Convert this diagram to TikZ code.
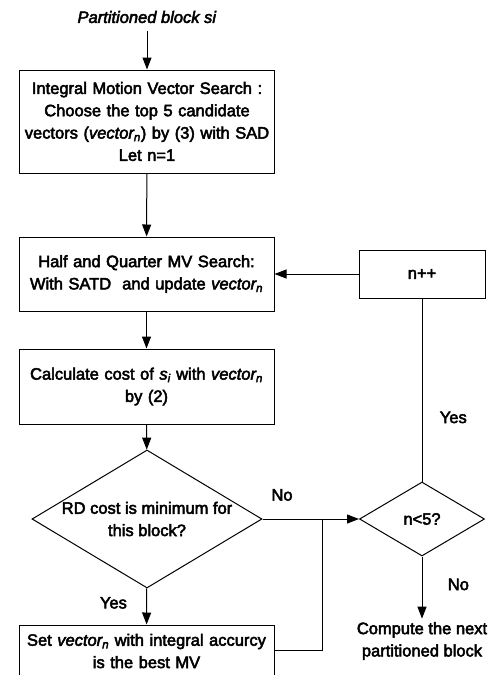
\documentclass[tikz,border=0pt]{standalone}
\usepackage{fontspec}
\setmainfont{Liberation Sans}[FakeBold=3]
\usetikzlibrary{shapes.geometric, arrows.meta}

\begin{document}
\begin{tikzpicture}[
                x=1pt, y=1pt,
                line width=1pt,
                every node/.style={font=\fontsize{16.5}{22.3}\selectfont, align=center}, % same text everywhere
                stepbox/.style={rectangle, draw, text width=255pt, inner sep=0pt},
                decision/.style={diamond, draw, inner sep=0pt, aspect=1.67},
                flow/.style={-{Triangle[length=12pt, width=9pt]}}
                ]
                \useasboundingbox (0,0) rectangle (496,-675);
                % main column
                \node[inner sep=7pt] (start) at (147,-17) {\textit{Partitioned block si}};
                \node[stepbox, minimum height=103pt] (search) at (147,-121.5)
                    {Integral Motion Vector Search :\\Choose the top 5 candidate\\vectors (\textit{vector\textsubscript{n}}) by (3) with SAD\\Let n=1};
                \node[stepbox, minimum height=74pt] (refine) at (146.5,-274)
                    {Half and Quarter MV Search:\\With SATD\ \ and update \textit{vector\textsubscript{n}}};
                \node[stepbox, minimum height=75pt] (cost) at (146.5,-386.5)
                    {Calculate cost of \textit{s\textsubscript{i}} with \textit{vector\textsubscript{n}}\\by (2)};
                \node[decision, minimum width=230pt, minimum height=138pt] (rdmin) at (147,-519)
                    {RD cost is minimum for\\this block?};
                \node[stepbox, minimum height=52pt] (best) at (146.5,-651)
                    {Set \textit{vector\textsubscript{n}} with integral accurcy\\is the best MV};
                % loop column
                \node[draw, minimum width=126pt, minimum height=48pt] (inc) at (422,-274) {n++};
                \node[decision, minimum width=125pt, minimum height=74pt] (more) at (422,-519) {n<5?};
                \node[inner sep=3pt] (next) at (422,-641) {Compute the next\\partitioned block};
                \coordinate (join) at (322,-519);
                % connectors
                \draw[flow] (start) -- (search);
                \draw[flow] (search) -- (refine);
                \draw[flow] (refine) -- (cost);
                \draw[flow] (cost) -- (rdmin);
                \draw[flow] (rdmin) -- node[left=16pt, pos=0.4] (yes1) {Yes} (best);
                \draw (rdmin.east) -- (join);
                \draw (best.east |- 0,-650) -| (join);
                \draw[flow] (join) -- (more);
                \draw (more) -- node[right=14pt, pos=0.35] (yes2) {Yes} (inc);
                \draw[flow] (inc) -- (refine);
                \draw[flow] (more) -- node[right=22pt, pos=0.45] (no2) {No} (next);
                \node (no1) at (282,-495) {No};
            \end{tikzpicture}
\end{document}
